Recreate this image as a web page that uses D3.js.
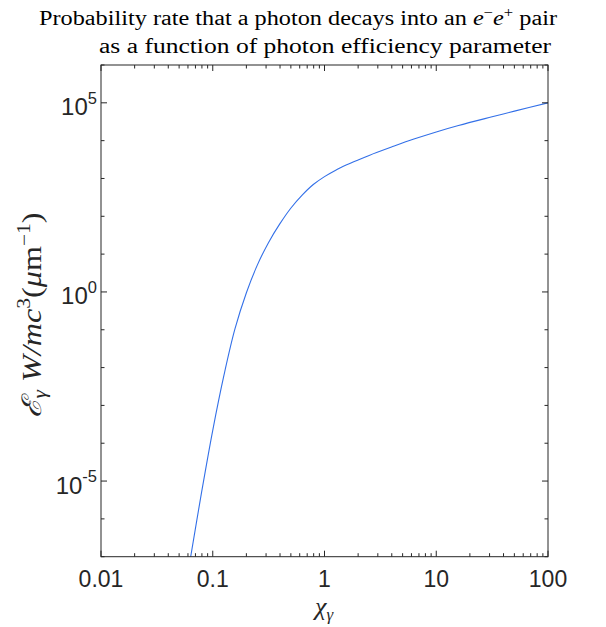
<!DOCTYPE html>
<html>
<head>
<meta charset="utf-8">
<script src="https://cdn.jsdelivr.net/npm/d3@7"></script>
<style>
  html, body { margin: 0; padding: 0; background: #fff; }
  svg { display: block; }
</style>
</head>
<body>
<script>
// Photon efficiency parameter chi_gamma
const chiValues = [0.0631, 0.0794, 0.1, 0.126, 0.158, 0.2, 0.251, 0.316, 0.398, 0.501,
                   0.631, 0.794, 1.0, 1.26, 1.58, 2.0, 2.51, 3.98, 6.31, 10, 15.8, 31.6, 50.1, 100];
// Pair-production rate E_gamma W / m c^3 (um^-1)
const rateValues = [9.0e-8, 5.0e-6, 2.2e-4, 6.3e-3, 0.105, 0.95, 5.2, 20.4, 63, 166,
                    363, 692, 1120, 1660, 2290, 3090, 4070, 6760, 11000, 17000, 25100, 42700, 60300, 100000];

const xTickValues = [0.01, 0.1, 1, 10, 100];
const xTickLabels = ["0.01", "0.1", "1", "10", "100"];
const yTickExponents = [-5, 0, 5];
const titleLines = ["Probability rate that a photon decays into an ", "as a function of photon efficiency parameter"];

const W = 606, H = 627;
const plotLeft = 101, plotRight = 548, plotTop = 65, plotBottom = 556.7;
const axisColor = "#262626";

const svg = d3.select("body").append("svg").attr("width", W).attr("height", H);

const x = d3.scaleLog().domain([0.01, 100]).range([plotLeft, plotRight]);
const y = d3.scaleLog().domain([1e-7, 1e6]).range([plotBottom, plotTop]);

// clip region for the curve
svg.append("clipPath").attr("id", "plotClip")
  .append("rect").attr("x", plotLeft).attr("y", plotTop)
  .attr("width", plotRight - plotLeft).attr("height", plotBottom - plotTop);

// curve
const line = d3.line()
  .x((d, i) => x(chiValues[i]))
  .y((d, i) => y(rateValues[i]))
  .curve(d3.curveCatmullRom.alpha(0.5));

svg.append("path")
  .datum(chiValues)
  .attr("clip-path", "url(#plotClip)")
  .attr("d", line)
  .attr("fill", "none")
  .attr("stroke", "#3370e8")
  .attr("stroke-width", 1.1);

// x ticks (major at decades, minor at 2..9), drawn inward on bottom and top
const xMinor = [];
for (let e = -2; e < 2; e++) for (let k = 2; k <= 9; k++) xMinor.push(k * Math.pow(10, e));

const ticks = svg.append("g").attr("stroke", axisColor).attr("stroke-width", 1);
xTickValues.forEach(v => {
  ticks.append("line").attr("x1", x(v)).attr("x2", x(v)).attr("y1", plotBottom).attr("y2", plotBottom - 6);
  ticks.append("line").attr("x1", x(v)).attr("x2", x(v)).attr("y1", plotTop).attr("y2", plotTop + 6);
});
xMinor.forEach(v => {
  ticks.append("line").attr("x1", x(v)).attr("x2", x(v)).attr("y1", plotBottom).attr("y2", plotBottom - 3.5);
  ticks.append("line").attr("x1", x(v)).attr("x2", x(v)).attr("y1", plotTop).attr("y2", plotTop + 3.5);
});

// y ticks: every decade; labelled decades are longer
for (let e = -7; e <= 6; e++) {
  const v = Math.pow(10, e);
  const len = yTickExponents.includes(e) ? 6 : 3.5;
  ticks.append("line").attr("x1", plotLeft).attr("x2", plotLeft + len).attr("y1", y(v)).attr("y2", y(v));
  ticks.append("line").attr("x1", plotRight).attr("x2", plotRight - len).attr("y1", y(v)).attr("y2", y(v));
}

// axes box
svg.append("rect")
  .attr("x", plotLeft).attr("y", plotTop)
  .attr("width", plotRight - plotLeft).attr("height", plotBottom - plotTop)
  .attr("fill", "none").attr("stroke", axisColor).attr("stroke-width", 1);

// x tick labels
svg.append("g").selectAll("text")
  .data(xTickValues)
  .join("text")
  .attr("x", d => x(d))
  .attr("y", 587)
  .attr("text-anchor", "middle")
  .attr("font-family", "Liberation Sans, Arial, sans-serif")
  .attr("font-size", 23)
  .attr("fill", axisColor)
  .text((d, i) => xTickLabels[i]);

// y tick labels 10^n
const yl = svg.append("g")
  .attr("font-family", "Liberation Sans, Arial, sans-serif")
  .attr("fill", axisColor);
yTickExponents.forEach(e => {
  const t = yl.append("text")
    .attr("x", 97).attr("y", y(Math.pow(10, e)) + 12.5)
    .attr("text-anchor", "end")
    .attr("font-size", 24);
  t.append("tspan").text("10");
  t.append("tspan").attr("font-size", 16.5).attr("dy", -11.5).text(String(e));
});

// title
const serif = "Liberation Serif, Times New Roman, serif";
const t1 = svg.append("text")
  .attr("x", 39).attr("y", 25)
  .attr("font-family", serif).attr("font-size", 20.5).attr("fill", "#000")
  .attr("textLength", 518).attr("lengthAdjust", "spacingAndGlyphs");
t1.append("tspan").text(titleLines[0]);
t1.append("tspan").attr("font-style", "italic").text("e");
t1.append("tspan").attr("font-size", 14).attr("dy", -8).text("−");
t1.append("tspan").attr("font-style", "italic").attr("dy", 8).text("e");
t1.append("tspan").attr("font-size", 14).attr("dy", -8).text("+");
t1.append("tspan").attr("dy", 8).text(" pair");

svg.append("text")
  .attr("x", 99).attr("y", 53)
  .attr("font-family", serif).attr("font-size", 20.5).attr("fill", "#000")
  .attr("textLength", 452).attr("lengthAdjust", "spacingAndGlyphs")
  .text(titleLines[1]);

// y axis label
const ylab = svg.append("text")
  .attr("transform", "translate(41,315) rotate(-90)")
  .attr("text-anchor", "middle")
  .attr("font-family", serif).attr("font-size", 27).attr("fill", axisColor)
  .attr("textLength", 205).attr("lengthAdjust", "spacingAndGlyphs");
ylab.append("tspan").attr("font-style", "italic").text("ℰ");
ylab.append("tspan").attr("font-style", "italic").attr("font-size", 18).attr("dy", 5).text("γ");
ylab.append("tspan").attr("font-style", "italic").attr("dy", -5).text(" W/mc");
ylab.append("tspan").attr("font-size", 18).attr("dy", -11).text("3");
ylab.append("tspan").attr("dy", 11).text("(");
ylab.append("tspan").attr("font-style", "italic").text("μ");
ylab.append("tspan").text("m");
ylab.append("tspan").attr("font-size", 18).attr("dy", -11).text("−1");
ylab.append("tspan").attr("dy", 11).text(")");

// x axis label
const xlab = svg.append("text")
  .attr("x", 324).attr("y", 615)
  .attr("text-anchor", "middle")
  .attr("font-family", serif).attr("font-size", 26).attr("fill", axisColor);
xlab.append("tspan").attr("font-style", "italic").text("χ");
xlab.append("tspan").attr("font-style", "italic").attr("font-size", 17).attr("dy", 5).text("γ");
</script>
</body>
</html>
